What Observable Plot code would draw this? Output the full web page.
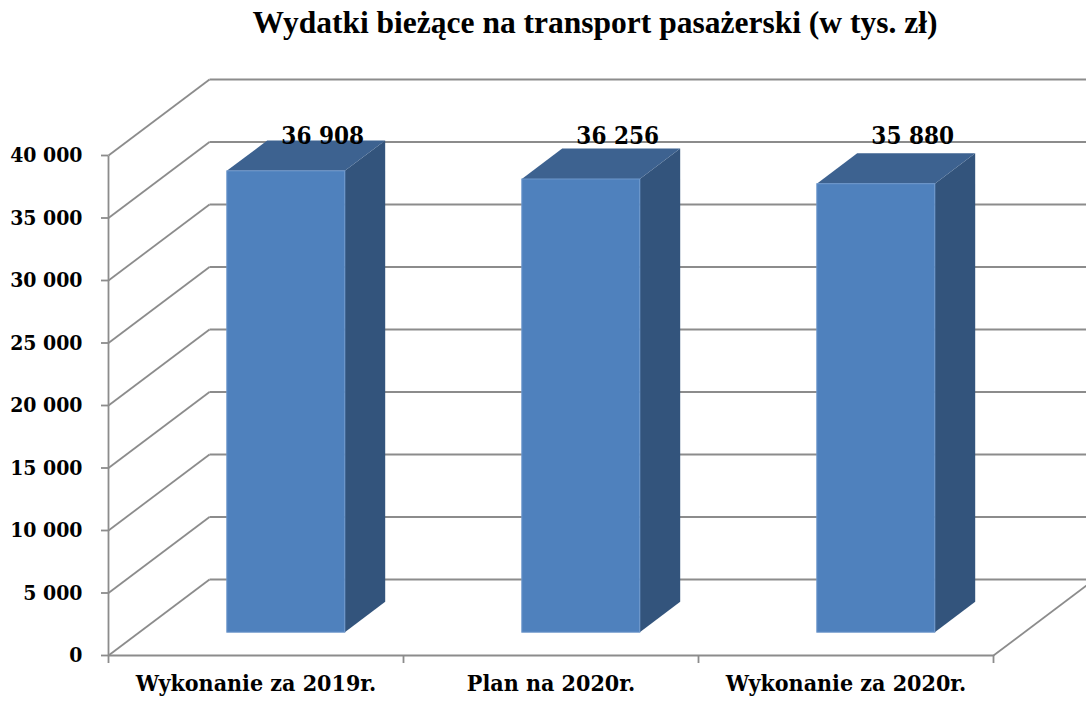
<!DOCTYPE html>
<html>
<head>
<meta charset="utf-8">
<script src="https://cdn.jsdelivr.net/npm/d3@7"></script>
<script src="https://cdn.jsdelivr.net/npm/@observablehq/plot@0.6"></script>
<style>
  html, body { margin: 0; padding: 0; background: #fff; }
  #title { width: 982px; padding-left: 104px; height: 60px; text-align: center;
           font-family: "Liberation Serif", "Times New Roman", serif;
           font-weight: bold; font-size: 31.5px; line-height: 46px; color: #000; overflow: hidden; }
  #chart svg { display: block; }
</style>
</head>
<body>
<div id="title">Wydatki bieżące na transport pasażerski (w tys. zł)</div>
<div id="chart"></div>
<script>
// ---- data ----
const categories = ["Wykonanie za 2019r.", "Plan na 2020r.", "Wykonanie za 2020r."];
const values = [36908, 36256, 35880];
const yTicks = [0, 5000, 10000, 15000, 20000, 25000, 30000, 35000, 40000];
const xTicks = [0, 1, 2, 3];

// ---- oblique 3D projection (in data units) ----
const DX = 0.3424;   // depth shift along category axis
const DY = 6080;     // depth shift along value axis
const F0 = 0.30, F1 = 0.70;   // bar front/back depth fraction
const B0 = 0.30, B1 = 0.70;   // bar extent within category band
const grid = "#8c8c8c";
const serif = "DejaVu Serif Condensed";
const fmt = d => d3.format(",")(d).replace(/,/g, " ");

const bars = values.map((v, i) => ({i, v, label: fmt(v)}));
const sides = bars.flatMap(b => [F0, F1].map(f => ({i: b.i, x: b.i + B1 + f * DX, y1: f * DY, y2: b.v + f * DY})));
const tops = bars.flatMap(b => [F0, F1].map(f => ({i: b.i, y: b.v + f * DY, x1: b.i + B0 + f * DX, x2: b.i + B1 + f * DX})));

const plot = Plot.plot({
  width: 1086,
  height: 642,
  marginLeft: 108,
  marginRight: 93,
  marginTop: 95,
  marginBottom: 47,
  x: {domain: [0, 3]},
  y: {domain: [0, 40000]},
  style: {background: "#fff", color: "#000"},
  marks: [
    // back wall gridlines
    Plot.link(yTicks, {x1: () => DX, x2: () => 3 + DX, y1: d => d + DY, y2: d => d + DY, stroke: grid, strokeWidth: 1.8}),
    // side wall diagonals
    Plot.link(yTicks, {x1: () => 0, x2: () => DX, y1: d => d, y2: d => d + DY, stroke: grid, strokeWidth: 1.8}),
    // right floor edge
    Plot.link([0], {x1: () => 3, x2: () => 3 + DX, y1: () => 0, y2: () => DY, stroke: grid, strokeWidth: 1.8}),
    // front axis lines
    Plot.link([0], {x1: () => 0, x2: () => 0, y1: () => 0, y2: () => 40000, stroke: grid, strokeWidth: 1.8}),
    Plot.link([0], {x1: () => 0, x2: () => 3, y1: () => 0, y2: () => 0, stroke: grid, strokeWidth: 1.8}),
    // bars: side, top, front
    Plot.areaY(sides, {x: "x", y1: "y1", y2: "y2", z: "i", fill: "#33547c"}),
    Plot.areaX(tops, {y: "y", x1: "x1", x2: "x2", z: "i", fill: "#3d6290"}),
    Plot.rect(bars, {x1: d => d.i + B0 + F0 * DX, x2: d => d.i + B1 + F0 * DX, y1: () => F0 * DY, y2: d => d.v + F0 * DY,
                     fill: "#4f81bd", stroke: "#6e98cc", strokeWidth: 1}),
    // value labels
    Plot.text(bars, {x: d => d.i + 0.5 + 0.66 * DX, frameAnchor: "top", dy: -29, text: "label", fontSize: 24, fontFamily: serif, fontWeight: "bold", fill: "#000"}),
    // axes
    Plot.axisY({ticks: yTicks, tickSize: 7, tickPadding: 19, tickFormat: fmt, stroke: grid, strokeWidth: 1.8, color: "#000", fontSize: 21, fontFamily: serif, fontWeight: "bold", label: null}),
    Plot.axisX({ticks: xTicks, tickSize: 8, tickFormat: () => "", stroke: grid, strokeWidth: 1.8, label: null}),
    // category labels
    Plot.text(categories, {x: (d, i) => i + 0.5, frameAnchor: "bottom", dy: 35, text: d => d, fontSize: 23, fontFamily: serif, fontWeight: "bold", fill: "#000"})
  ]
});
document.getElementById("chart").appendChild(plot);
</script>
</body>
</html>
